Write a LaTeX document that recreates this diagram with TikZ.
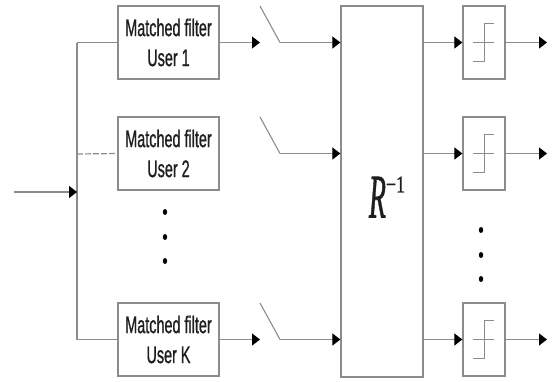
\documentclass[tikz,border=0pt]{standalone}
\usepackage{graphicx}
\usepackage{fontspec}
\setmainfont{Liberation Sans}
\newfontfamily\mffont{Liberation Sans}[FakeBold=1.2]
\newfontfamily\rfont{Liberation Serif}[FakeBold=1.2]
\usetikzlibrary{arrows.meta}
\definecolor{linegray}{HTML}{8C8C8C}
\definecolor{txt}{HTML}{1E1E1E}
\newcommand\nrw[1]{\scalebox{0.6}[1]{#1}}
\begin{document}
\begin{tikzpicture}[x=1pt,y=-1pt,
  ln/.style={draw=linegray, line width=1.2pt},
  arr/.style={ln, -{Triangle[length=8pt,width=12pt,color=black]}},
  mfbox/.style={draw=linegray, line width=1.3pt, minimum width=101pt, minimum height=73pt,
    inner sep=0pt, align=center, font=\mffont\fontsize{24}{30}\selectfont, text=txt},
  rbox/.style={draw=linegray, line width=1.3pt, minimum width=82pt, minimum height=371pt, inner sep=0pt},
  thbox/.style={draw=linegray, line width=1.3pt, minimum width=42pt, minimum height=73pt, inner sep=0pt},
  stepsym/.style={draw=linegray, line width=0.9pt},
  swline/.style={draw=linegray, line width=1.1pt}
]
\useasboundingbox (0,0) rectangle (556,381);

% matched filters
\node[mfbox] (mf1) at (168.5,42.5) {\nrw{Matched filter}\\\nrw{User 1}};
\node[mfbox] (mf2) at (168.5,153.5) {\nrw{Matched filter}\\\nrw{User 2}};
\node[mfbox] (mfK) at (168.5,339.5) {\nrw{Matched filter}\\\nrw{User K}};

% decorrelator
\node[rbox] (R) at (382,191.5) {};
\node[text=txt, inner sep=0pt] (Rl) at (387,197)
  {\rfont\scalebox{0.45}[1]{\fontsize{62}{62}\selectfont\itshape R}\raisebox{25pt}{\scalebox{0.75}[1]{\fontsize{24}{24}\selectfont −1}}};

% threshold boxes
\node[thbox] (th1) at (484,42.5) {};
\node[thbox] (th2) at (484,153.5) {};
\node[thbox] (thK) at (484,339.5) {};

% input and bus
\coordinate (in) at (14,192);
\coordinate (busM) at (77,192);
\coordinate (busT) at (77,42.5);
\coordinate (bus2) at (77,154);
\coordinate (busB) at (77,339.5);
\draw[ln] (busT) -- (busB);
\draw[arr] (in) -- (busM);
\draw[ln] (busT) -- (mf1.west);
\draw[ln, dash pattern=on 6pt off 2pt] (bus2) -- (mf2.west);
\draw[ln] (busB) -- (mfK.west);

% switch contacts
\coordinate (c1) at (260,42.5);
\coordinate (cK) at (260,339.5);
\draw[arr] (mf1.east) -- (c1);
\draw[arr] (mfK.east) -- (cK);

\foreach \n/\y in {1/42.5,2/153.5,K/339.5}{
  \coordinate (sa\n) at (260,\y-36.5);
  \coordinate (sb\n) at (280,\y);
  \draw[swline] (sa\n) -- (sb\n);
  \draw[arr] (sb\n) -- (R.west |- sb\n);
  \draw[arr] (R.east |- sb\n) -- (th\n.west);
  \coordinate (o\n) at (547,\y);
  \draw[arr] (th\n.east) -- (o\n);
  \draw[stepsym] ([xshift=-11pt]th\n.center) -- ([xshift=10pt]th\n.center);
  \draw[stepsym] ([xshift=-11pt,yshift=-19pt]th\n.center) -- ++(11,0) -- ++(0,-38) -- ++(10,0);
}

% dots
\foreach \y in {212,237,261}{\fill[black] (165,\y) ellipse [x radius=2.2pt, y radius=3pt];}
\foreach \y in {230,255,279}{\fill[black] (481,\y) ellipse [x radius=2.2pt, y radius=3pt];}
\end{tikzpicture}
\end{document}
